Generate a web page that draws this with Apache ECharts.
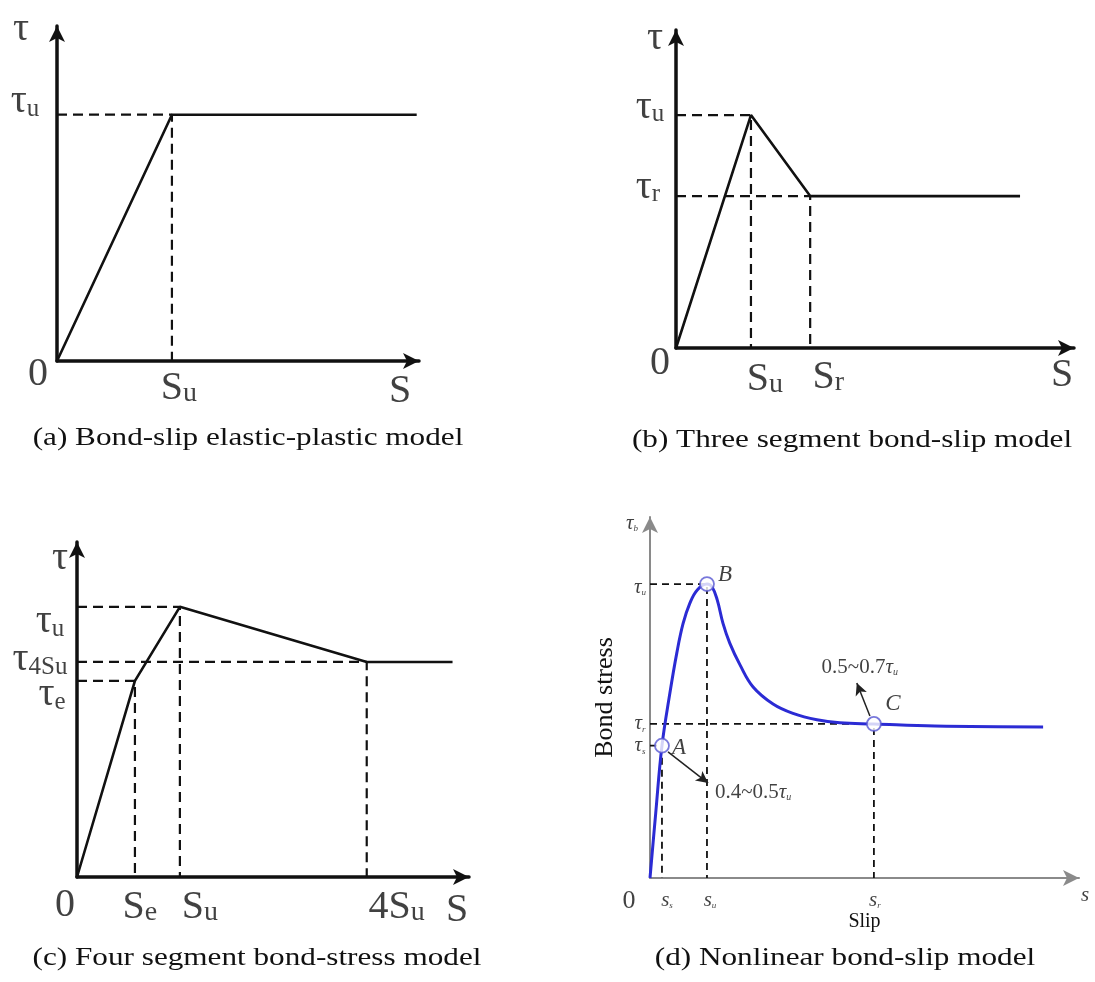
<!DOCTYPE html>
<html>
<head>
<meta charset="utf-8">
<script src="https://cdn.jsdelivr.net/npm/echarts@6/dist/echarts.min.js"></script>
<style>
  html, body { margin: 0; padding: 0; background: #fff; }
  #chart { width: 1095px; height: 982px; }
</style>
</head>
<body>
<div id="chart"></div>
<script>
// Slip is expressed in units of S_u, stress in units of tau_u.

// (a) elastic-plastic law
const slipA = [0, 1, 3.13];
const stressA = [0, 1, 1];

// (b) three segment law
const slipB = [0, 1, 1.79, 4.59];
const stressB = [0, 1, 0.652, 0.652];

// (c) four segment law
const slipC = [0, 0.563, 1, 2.816, 3.65];
const stressC = [0, 0.726, 1, 0.796, 0.796];

// (d) nonlinear law
const slipD = [0, 0.10, 0.21, 0.35, 0.47, 0.58, 0.70, 0.83, 1.00, 1.09, 1.18, 1.28, 1.40, 1.58, 1.81, 2.16, 2.51, 2.93, 3.33, 3.93, 5.00, 6.90];
const stressD = [0, 0.22, 0.45, 0.63, 0.765, 0.865, 0.935, 0.98, 1.00, 0.99, 0.946, 0.867, 0.799, 0.725, 0.650, 0.592, 0.560, 0.538, 0.528, 0.524, 0.517, 0.514];
const pointNamesD = ['A', 'B', 'C'];
const pointIndexD = [2, 8, 19];

// annotation arrows of (d): tail and head in data units
const noteTextD = [['0.5~0.7', 'τ', 'u'], ['0.4~0.5', 'τ', 'u']];
const noteFromD = [[3.86, 0.551], [0.316, 0.429]];
const noteToD = [[3.63, 0.663], [1.02, 0.323]];

// axis extents of the four panels
const slipMax = [3.15, 5.31, 3.81, 7.53];
const stressMax = [1.36, 1.365, 1.24, 1.228];

// axis symbols: [main, subscript]
const slipTicksA = [['S', 'u']];
const stressTicksA = [['τ', 'u']];
const slipTicksB = [['S', 'u'], ['S', 'r']];
const stressTicksB = [['τ', 'u'], ['τ', 'r']];
const slipTicksC = [['S', 'e'], ['S', 'u'], ['4S', 'u']];
const stressTicksC = [['τ', 'e'], ['τ', 'u'], ['τ', '4Su']];
const slipTicksD = [['s', 's'], ['s', 'u'], ['s', 'r']];
const stressTicksD = [['τ', 's'], ['τ', 'u'], ['τ', 'r']];

const captions = [
  '(a) Bond-slip elastic-plastic model',
  '(b) Three segment bond-slip model',
  '(c) Four segment bond-stress model',
  '(d) Nonlinear bond-slip model'
];

const F = 'Liberation Serif';
const INK = '#111';
const BLUE = '#2b2bd4';

const RICH = {
  M:  { fontFamily: F, fontSize: 40, lineHeight: 40, verticalAlign: 'top', color: INK },
  Ms: { fontFamily: F, fontSize: 28, lineHeight: 20, verticalAlign: 'bottom', color: INK },
  T:  { fontFamily: F, fontSize: 40, lineHeight: 40, verticalAlign: 'top', color: INK },
  Ts: { fontFamily: F, fontSize: 25, lineHeight: 18, verticalAlign: 'bottom', color: INK },
  t:  { fontFamily: F, fontStyle: 'italic', fontSize: 21, lineHeight: 21, verticalAlign: 'top', color: INK },
  ts: { fontFamily: F, fontStyle: 'italic', fontSize: 9, lineHeight: 8, verticalAlign: 'bottom', color: INK },
  o:  { fontFamily: F, fontSize: 26, lineHeight: 26, color: INK },
  L:  { fontFamily: F, fontStyle: 'italic', fontSize: 23, lineHeight: 23, color: INK },
  n:  { fontFamily: F, fontSize: 21, lineHeight: 21, verticalAlign: 'top', color: INK },
  ni: { fontFamily: F, fontStyle: 'italic', fontSize: 21, lineHeight: 21, verticalAlign: 'top', color: INK },
  ns: { fontFamily: F, fontStyle: 'italic', fontSize: 10, lineHeight: 9, verticalAlign: 'bottom', color: INK }
};

function pairs(xs, ys) { return xs.map((x, i) => [x, ys[i]]); }
function fmt(pair, s) {
  return '{' + s + '|' + pair[0] + '}' + (pair[1] ? '{' + s + 's|' + pair[1] + '}' : '');
}
function lab(x, y, txt, dx, dy) {
  return { value: [x, y], txt: txt, label: { offset: [dx, dy] } };
}
function labelSeries(i, items) {
  return {
    type: 'scatter', xAxisIndex: i, yAxisIndex: i, symbolSize: 0, silent: true, z: 20,
    label: { show: true, position: 'inside', rich: RICH, formatter: p => p.data.txt },
    data: items
  };
}
function curve(i, xs, ys, color, width, smooth) {
  return {
    type: 'line', xAxisIndex: i, yAxisIndex: i, data: pairs(xs, ys), symbol: 'none',
    smooth: smooth || false,
    lineStyle: { color: color, width: width }, z: 4, silent: true
  };
}
function guide(i, x, y, width, dash) {
  return {
    type: 'line', xAxisIndex: i, yAxisIndex: i, data: [[0, y], [x, y], [x, 0]], symbol: 'none',
    lineStyle: { color: INK, width: width, type: dash }, z: 3, silent: true
  };
}

const grids = [
  { left: 57, top: 26, width: 362, height: 335 },
  { left: 676, top: 30, width: 398, height: 318 },
  { left: 77, top: 542, width: 392, height: 335 },
  { left: 650, top: 517, width: 429, height: 361 }
];

const nameStyle = { fontFamily: F, color: INK };
const xAxes = grids.map((g, i) => Object.assign({
  type: 'value', gridIndex: i, min: 0, max: slipMax[i],
  axisLine: {
    show: true, onZero: false, symbol: ['none', 'arrow'], symbolSize: [12, 16],
    lineStyle: { color: i < 3 ? INK : '#8a8a8a', width: i < 3 ? 3.5 : 2 }
  },
  axisTick: { show: false }, axisLabel: { show: false }, splitLine: { show: false }
}, i === 3 ? { name: 'Slip', nameLocation: 'middle', nameGap: 34, nameTextStyle: Object.assign({ fontSize: 20 }, nameStyle) } : {}));
const yAxes = grids.map((g, i) => Object.assign({
  type: 'value', gridIndex: i, min: 0, max: stressMax[i],
  axisLine: {
    show: true, onZero: false, symbol: ['none', 'arrow'], symbolSize: [12, 16],
    lineStyle: { color: i < 3 ? INK : '#8a8a8a', width: i < 3 ? 3.5 : 2 }
  },
  axisTick: { show: false }, axisLabel: { show: false }, splitLine: { show: false }
}, i === 3 ? { name: 'Bond stress', nameLocation: 'middle', nameRotate: 90, nameGap: 32, nameTextStyle: Object.assign({ fontSize: 26 }, nameStyle) } : {}));

const series = [];
const DASH = [10, 6];

// (a)
series.push(curve(0, slipA, stressA, INK, 2.6));
series.push(guide(0, slipA[1], stressA[1], 2.2, DASH));
series.push(labelSeries(0, [
  lab(0, 0, fmt(['0', ''], 'M'), -19, 13),
  lab(slipA[1], 0, fmt(slipTicksA[0], 'M'), 7, 27),
  lab(slipMax[0], 0, fmt(['S', ''], 'M'), -19, 30),
  lab(0, stressMax[0], fmt(['τ', ''], 'T'), -36, 3),
  lab(0, stressA[1], fmt(stressTicksA[0], 'T'), -32, -13)
]));

// (b)
series.push(curve(1, slipB, stressB, INK, 2.6));
series.push(guide(1, slipB[1], stressB[1], 2.2, DASH));
series.push(guide(1, slipB[2], stressB[2], 2.2, DASH));
series.push(labelSeries(1, [
  lab(0, 0, fmt(['0', ''], 'M'), -16, 15),
  lab(slipB[1], 0, fmt(slipTicksB[0], 'M'), 14, 31),
  lab(slipB[2], 0, fmt(slipTicksB[1], 'M'), 18, 29),
  lab(slipMax[1], 0, fmt(['S', ''], 'M'), -12, 27),
  lab(0, stressMax[1], fmt(['τ', ''], 'T'), -21, 8),
  lab(0, stressB[1], fmt(stressTicksB[0], 'T'), -26, -8),
  lab(0, stressB[2], fmt(stressTicksB[1], 'T'), -28, -9)
]));

// (c)
series.push(curve(2, slipC, stressC, INK, 2.6));
series.push(guide(2, slipC[1], stressC[1], 2.2, DASH));
series.push(guide(2, slipC[2], stressC[2], 2.2, DASH));
series.push(guide(2, slipC[3], stressC[3], 2.2, DASH));
series.push(labelSeries(2, [
  lab(0, 0, fmt(['0', ''], 'M'), -12, 28),
  lab(slipC[1], 0, fmt(slipTicksC[0], 'M'), 5, 30),
  lab(slipC[2], 0, fmt(slipTicksC[1], 'M'), 20, 30),
  lab(slipC[3], 0, fmt(slipTicksC[2], 'M'), 30, 30),
  lab(slipMax[2], 0, fmt(['S', ''], 'M'), -12, 33),
  lab(0, stressMax[2], fmt(['τ', ''], 'T'), -17, 16),
  lab(0, stressC[2], fmt(stressTicksC[1], 'T'), -27, 15),
  lab(0, stressC[3], fmt(stressTicksC[2], 'T'), -37, -2),
  lab(0, stressC[1], fmt(stressTicksC[0], 'T'), -25, 14)
]));

// (d)
const pD = pointIndexD.map(k => [slipD[k], stressD[k]]);
pD.forEach(p => series.push(guide(3, p[0], p[1], 1.8, [7, 5])));
series.push(Object.assign(curve(3, slipD, stressD, BLUE, 3, 0.4), {
  markLine: {
    silent: true, symbol: ['none', 'arrow'], symbolSize: [9, 12],
    lineStyle: { color: '#222', width: 1.5, type: 'solid' }, label: { show: false },
    data: noteFromD.map((a, k) => [{ coord: a }, { coord: noteToD[k] }])
  }
}));
series.push({
  type: 'scatter', xAxisIndex: 3, yAxisIndex: 3, symbol: 'circle', symbolSize: 14, z: 6, silent: true,
  itemStyle: { color: '#fff', borderColor: '#5656d2', borderWidth: 1.8 },
  label: { show: true, position: 'inside', rich: RICH, formatter: p => '{L|' + p.data.name + '}' },
  data: pD.map((p, k) => ({ value: p, name: pointNamesD[k], label: { offset: [[17, 2], [18, -9], [19, -20]][k] } }))
});
series.push(labelSeries(3, [
  lab(0, 0, '{o|0}', -21, 23),
  lab(pD[0][0], 0, fmt(slipTicksD[0], 't'), 5, 22),
  lab(pD[1][0], 0, fmt(slipTicksD[1], 't'), 3, 22),
  lab(pD[2][0], 0, fmt(slipTicksD[2], 't'), 1, 22),
  lab(slipMax[3], 0, '{t|s}', 6, 17),
  lab(0, stressMax[3], fmt(['τ', 'b'], 't'), -18, 6),
  lab(0, pD[1][1], fmt(stressTicksD[1], 't'), -10, 3),
  lab(0, pD[2][1], fmt(stressTicksD[2], 't'), -10, 0),
  lab(0, pD[0][1], fmt(stressTicksD[0], 't'), -10, 0),
  lab(noteToD[0][0], noteToD[0][1], '{n|' + noteTextD[0][0] + '}{ni|' + noteTextD[0][1] + '}{ns|' + noteTextD[0][2] + '}', 3, -16),
  lab(noteToD[1][0], noteToD[1][1], '{n|' + noteTextD[1][0] + '}{ni|' + noteTextD[1][1] + '}{ns|' + noteTextD[1][2] + '}', 45, 9)
]));

// panel captions
const captionPos = [[248, 438], [852, 440], [257, 958], [845, 958]];
const graphic = captions.map((c, k) => ({
  type: 'text', x: captionPos[k][0], y: captionPos[k][1], scaleX: 1.2, silent: true,
  style: {
    text: c, fill: INK, font: '26px "Liberation Serif"',
    align: 'center', verticalAlign: 'middle', textAlign: 'center', textVerticalAlign: 'middle'
  }
}));

const chart = echarts.init(document.getElementById('chart'), null, { renderer: 'canvas' });
chart.setOption({
  backgroundColor: '#ffffff',
  animation: false,
  grid: grids,
  xAxis: xAxes,
  yAxis: yAxes,
  series: series,
  graphic: graphic
});
</script>
</body>
</html>
